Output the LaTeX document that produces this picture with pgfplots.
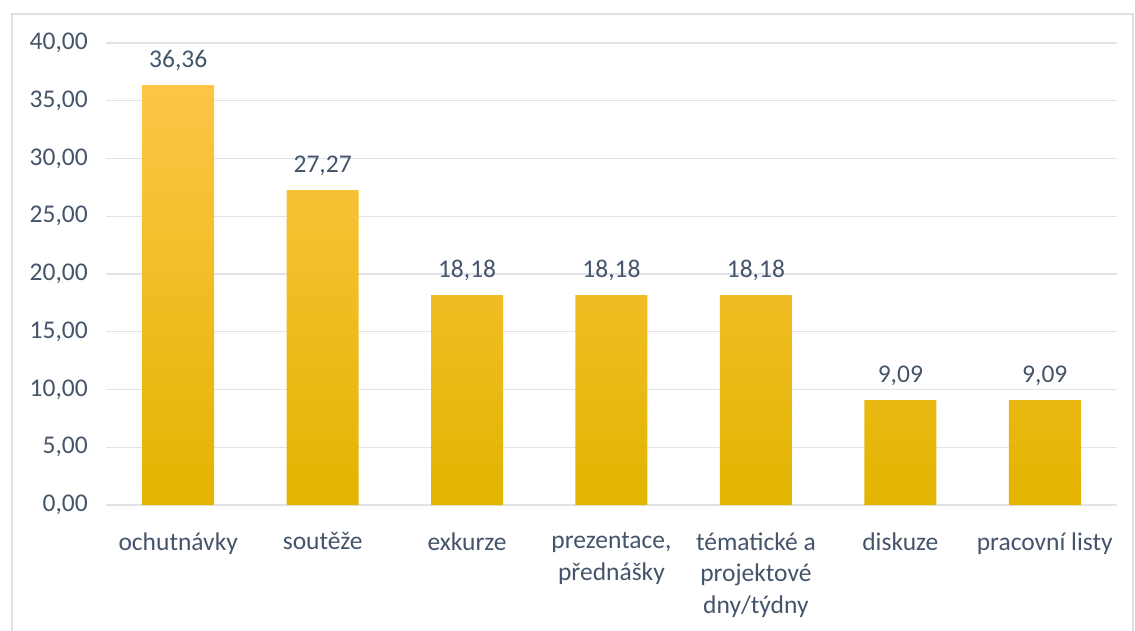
\documentclass[border=0pt]{standalone}
\usepackage{pgfplots}
\pgfplotsset{compat=1.18}
\usepackage{fontspec}
\setmainfont{Carlito}
\definecolor{txt}{HTML}{44546A}
\definecolor{gridc}{HTML}{E0E3E8}
\definecolor{framec}{HTML}{DDE1E6}
\definecolor{bartop}{HTML}{FFC547}
\definecolor{barmid}{HTML}{FFC300}
\definecolor{barbot}{HTML}{E3B400}
\begin{document}
\begin{tikzpicture}[x=1pt,y=1pt]
\useasboundingbox (-106,-125) rectangle (1029,505);
\draw[framec, line width=1.2pt] (-94,-140) rectangle (1027,491);
\begin{axis}[
  at={(0,0)}, anchor=south west,
  scale only axis, width=1011pt, height=462pt,
  xmin=-0.5, xmax=6.5, ymin=0, ymax=40,
  ytick={0,5,...,40},
  xtick={0,...,6},
  xticklabels={ochutnávky, soutěže, exkurze, {prezentace,\\přednášky}, {tématické a\\projektové\\dny/týdny}, diskuze, pracovní listy},
  axis line style={draw=none},
  major tick style={draw=none},
  ymajorgrids, major grid style={gridc, line width=1.2pt},
  ybar, bar width=72pt,
  /pgf/number format/.cd, use comma, fixed, fixed zerofill, precision=2, assume math mode=true,
  /pgfplots/.cd,
  tick label style={font=\fontsize{25.5}{31.5}\selectfont, text=txt},
  yticklabel style={inner sep=0pt, xshift=-18pt},
  xticklabel style={align=center, anchor=north, inner sep=0pt, yshift=-23pt},
  nodes near coords,
  nodes near coords style={font=\fontsize{25.5}{28}\selectfont, text=txt, anchor=south, inner sep=0pt, yshift=14pt},
]
\addplot[draw=none, top color=bartop, middle color=barmid, bottom color=barbot] coordinates {
(0,36.36) (1,27.27) (2,18.18) (3,18.18) (4,18.18) (5,9.09) (6,9.09)};
\end{axis}
\end{tikzpicture}
\end{document}
